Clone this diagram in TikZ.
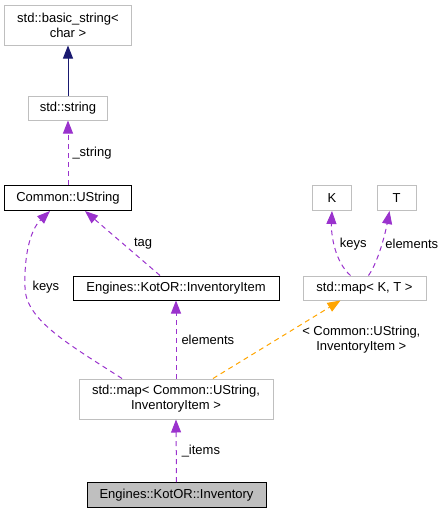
\documentclass[tikz,border=0pt]{standalone}
\usepackage{fontspec}
\setmainfont{Liberation Sans}
\usetikzlibrary{arrows.meta}
\definecolor{edgepurple}{HTML}{9A32CD}
\definecolor{edgenavy}{HTML}{191970}
\definecolor{edgeorange}{HTML}{FFA500}
\definecolor{boxgray}{HTML}{BFBFBF}
\begin{document}
\begin{tikzpicture}[x=1pt,y=-1pt,
	every node/.style={font=\fontsize{13}{15}\selectfont,align=center,inner sep=0pt},
	cls/.style={draw=boxgray,line width=1pt},
	doc/.style={draw=black,line width=1pt},
	lbl/.style={inner sep=1pt},
	mem/.style={draw=edgepurple,line width=1pt,dash pattern=on 5pt off 4pt,-{Triangle[length=13pt,width=10pt]}},
	inh/.style={draw=edgenavy,line width=1pt,-{Triangle[length=13pt,width=10pt]}},
	tpl/.style={draw=edgeorange,line width=1pt,dash pattern=on 5pt off 4pt,-{Triangle[length=13pt,width=10pt]}}]

			\useasboundingbox (0,0) rectangle (445,515);

			\node[cls,minimum width=127pt,minimum height=40pt] (bstr) at (68,25) {std::basic\_string<\\char >};
			\node[cls,minimum width=79pt,minimum height=24pt] (str) at (68,108) {std::string};
			\node[doc,minimum width=127pt,minimum height=25pt] (ustr) at (68,198) {Common::UString};
			\node[cls,minimum width=39pt,minimum height=25pt] (K) at (332,198) {K};
			\node[cls,minimum width=39pt,minimum height=25pt] (T) at (396.5,198) {T};
			\node[doc,minimum width=206pt,minimum height=24pt] (item) at (176,288) {Engines::KotOR::InventoryItem};
			\node[cls,minimum width=123pt,minimum height=24pt] (mkt) at (364.5,288) {std::map< K, T >};
			\node[cls,minimum width=194pt,minimum height=40pt] (map) at (176,399) {std::map< Common::UString,\\InventoryItem >};
			\node[doc,fill=boxgray,minimum width=179pt,minimum height=25pt] (inv) at (176.5,495) {Engines::KotOR::Inventory};

			\draw[inh] (str.north) -- (bstr.south);
			\draw[mem] (ustr.north) -- (str.south) node[lbl,midway,right=3pt] (lstring) {\_string};
			\draw[mem] ([xshift=-16pt]item.north) -- ([xshift=17pt]ustr.south) node[lbl,midway,right=10pt] (ltag) {tag};
			\draw[mem] ([xshift=-54pt]map.north) .. controls (70,345) and (25,320) .. (25,287) node[lbl,right=6pt] (lkeys) {keys}
				.. controls (24,250) and (32,228) .. ([xshift=-18pt]ustr.south);
			\draw[mem] (map.north) -- (item.south) node[lbl,midway,right=4pt] (lelem) {elements};
			\draw[tpl] ([xshift=37pt]map.north) -- ([xshift=-24pt]mkt.south) node[lbl,midway,right=24pt] (ltpl) {< Common::UString,\\InventoryItem >};
			\draw[mem] ([xshift=-14pt]mkt.north) .. controls (335,262) and (331,235) .. (K.south) node[lbl,pos=.55,right=4pt] (lkkeys) {keys};
			\draw[mem] ([xshift=4pt]mkt.north) .. controls (378,262) and (385,235) .. ([xshift=-7pt]T.south) node[lbl,pos=.55,right=2pt] (ltelem) {elements};
			\draw[mem] (inv.north) -- (map.south) node[lbl,midway,right=4pt] (litems) {\_items};
		\end{tikzpicture}
\end{document}
